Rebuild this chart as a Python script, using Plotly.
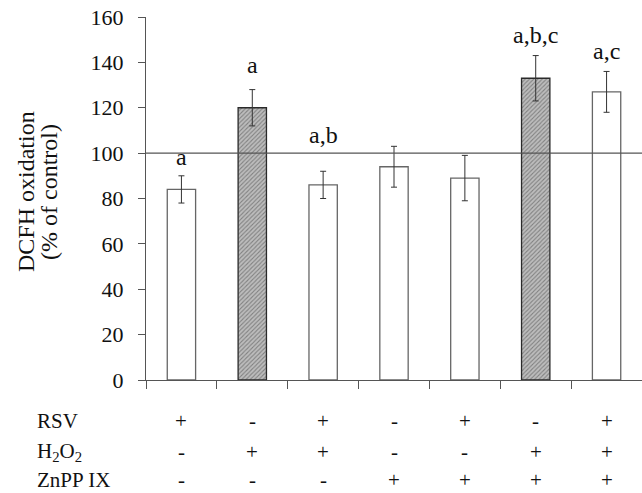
import plotly.graph_objects as go

categories = ["1", "2", "3", "4", "5", "6", "7"]
values = [84, 120, 86, 94, 89, 133, 127]
errors = [6, 8, 6, 9, 10, 10, 9]
hatched = [False, True, False, False, False, True, False]
sig_labels = ["a", "a", "a,b", "", "", "a,b,c", "a,c"]
sig_label_y = [98.5, 139, 108, None, None, 152, 145]
rsv = ["+", "-", "+", "-", "+", "-", "+"]
h2o2 = ["-", "+", "+", "-", "-", "+", "+"]
znpp = ["-", "-", "-", "+", "+", "+", "+"]
row_names = ["RSV", "H<sub>2</sub>O<sub>2</sub>", "ZnPP IX"]
y_ticks = [0, 20, 40, 60, 80, 100, 120, 140, 160]
reference_value = 100

FONT = "Liberation Serif, Times New Roman, serif"
AX = "#555555"

xpos = list(range(len(categories)))
fig = go.Figure()

fig.add_trace(go.Bar(
    x=xpos, y=values, width=0.4,
    marker=dict(
        color=["#bdbdbd" if h else "white" for h in hatched],
        line=dict(color=["#2a2a2a" if h else "#666666" for h in hatched], width=1.3),
        pattern=dict(
            shape=["/" if h else "" for h in hatched],
            fgcolor="#3c3c3c", bgcolor="#c2c2c2", size=3, solidity=0.35,
        ),
    ),
    error_y=dict(type="data", array=errors, color="#333333", thickness=1, width=3),
    showlegend=False, hoverinfo="skip",
))

# reference line at 100
fig.add_shape(type="line", xref="paper", yref="y", x0=0, x1=1,
              y0=reference_value, y1=reference_value,
              line=dict(color=AX, width=1.3), layer="above")

# significance letters
for i, (lab, ly) in enumerate(zip(sig_labels, sig_label_y)):
    if lab:
        fig.add_annotation(x=xpos[i], y=ly, xref="x", yref="y", text=lab,
                           showarrow=False, yanchor="middle",
                           font=dict(family=FONT, size=24, color="#111"))

# treatment table
plot_top, plot_bottom = 17, 380
def ppx(p):
    return (plot_bottom - p) / (plot_bottom - plot_top)

row_y = [421, 452, 480]
for r, (name, row) in enumerate(zip(row_names, [rsv, h2o2, znpp])):
    fig.add_annotation(x=(35 - 146) / 496, y=ppx(row_y[r]), xref="paper", yref="paper",
                       text=name, showarrow=False, xanchor="left", yanchor="middle",
                       font=dict(family=FONT, size=21, color="#111"))
    for i, s in enumerate(row):
        fig.add_annotation(x=xpos[i], y=ppx(row_y[r]), xref="x", yref="paper",
                           text=s, showarrow=False, yanchor="middle",
                           font=dict(family=FONT, size=21, color="#111"))

# y-axis title (two lines)
for txt, px in [("DCFH oxidation", 26), ("(% of control)", 49)]:
    fig.add_annotation(x=(px - 146) / 496, y=ppx(192), xref="paper", yref="paper",
                       text=txt, textangle=-90, showarrow=False,
                       xanchor="center", yanchor="middle",
                       font=dict(family=FONT, size=24, color="#111"))

fig.update_layout(
    width=642, height=493,
    margin=dict(l=146, r=0, t=17, b=113),
    plot_bgcolor="white", paper_bgcolor="white",
    font=dict(family=FONT, color="#111"),
    bargap=0.6,
)
fig.update_xaxes(
    range=[-0.5, 6.5], showgrid=False, zeroline=False,
    showline=True, linecolor=AX, linewidth=1.3,
    tickmode="array", tickvals=[i - 0.5 for i in range(len(categories) + 1)],
    showticklabels=False,
    ticks="outside", ticklen=8, tickcolor=AX, tickwidth=1.3,
)
fig.update_yaxes(
    range=[0, 160], showgrid=False, zeroline=False,
    showline=True, linecolor=AX, linewidth=1.3,
    tickmode="array", tickvals=y_ticks,
    ticks="outside", ticklen=7, tickcolor=AX, tickwidth=1.3,
    tickfont=dict(family=FONT, size=22, color="#111"),
    ticklabelstandoff=10,
)

fig.write_html("out.html", config={"displayModeBar": False},
               post_script="document.body.style.margin='0';")
